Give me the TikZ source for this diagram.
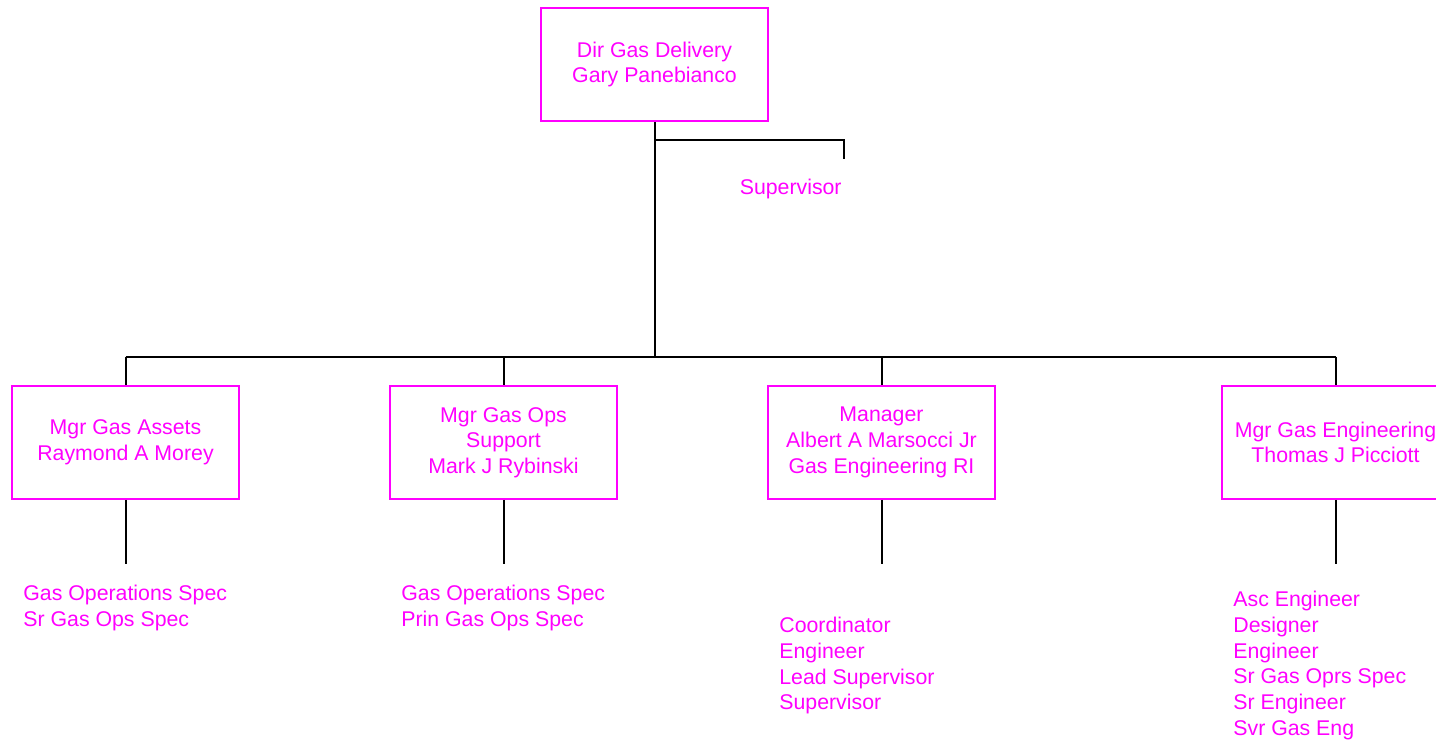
\documentclass[tikz,border=0pt]{standalone}
\usepackage{fontspec}
\setmainfont{Liberation Sans}
\usetikzlibrary{positioning}
\definecolor{orgpink}{RGB}{255,0,255}

\begin{document}
\begin{tikzpicture}[x=0.5pt,y=-0.5pt,
    every node/.style={font=\fontsize{10.65}{12.85}\selectfont},
    post/.style={draw=orgpink, line width=1pt, minimum width=113.5pt, minimum height=56.5pt, align=center, text=orgpink, inner sep=0pt},
    staff/.style={align=left, text=orgpink, inner sep=0pt, anchor=north west},
    link/.style={line width=1pt}]
  \useasboundingbox (0,0) rectangle (1436,742);

  % top of the chart
  \node[post] (dir) at (654.5,64.5) {Dir Gas Delivery\\Gary Panebianco};
  \coordinate (tap) at (654.5,140);
  \coordinate (supend) at (844,159);
  \coordinate (bus) at (654.5,357);
  \draw[link] (dir.south) -- (bus);
  \draw[link] (tap) -| (supend);
  \node[text=orgpink, inner sep=0pt, anchor=east] (sup) at (842,189) {Supervisor};

  % managers
  \node[post] (m1) at (125.5,442.5) {Mgr Gas Assets\\Raymond A Morey};
  \node[post] (m2) at (503.5,442.5) {Mgr Gas Ops\\Support\\Mark J Rybinski};
  \node[post] (m3) at (881.5,442.5) {Manager\\Albert A Marsocci Jr\\Gas Engineering RI};
  \node[post] (m4) at (1335.5,442.5) {Mgr Gas Engineering\\Thomas J Picciott};

  \draw[link] (bus -| m1.north) -- (bus -| m4.north);
  \foreach \i in {1,...,4}
    {\draw[link] (bus -| m\i.north) -- (m\i.north);
     \draw[link] (m\i.south) -- ++(0,64) coordinate (m\i end);}

  % staff under each manager
  \node[staff] (s1) at (23,585) {Gas Operations Spec\\Sr Gas Ops Spec};
  \node[staff] (s2) at (401,585) {Gas Operations Spec\\Prin Gas Ops Spec};
  \node[staff] (s3) at (779,617) {Coordinator\\Engineer\\Lead Supervisor\\Supervisor};
  \node[staff] (s4) at (1233,591) {Asc Engineer\\Designer\\Engineer\\Sr Gas Oprs Spec\\Sr Engineer\\Svr Gas Eng};
\end{tikzpicture}
\end{document}
